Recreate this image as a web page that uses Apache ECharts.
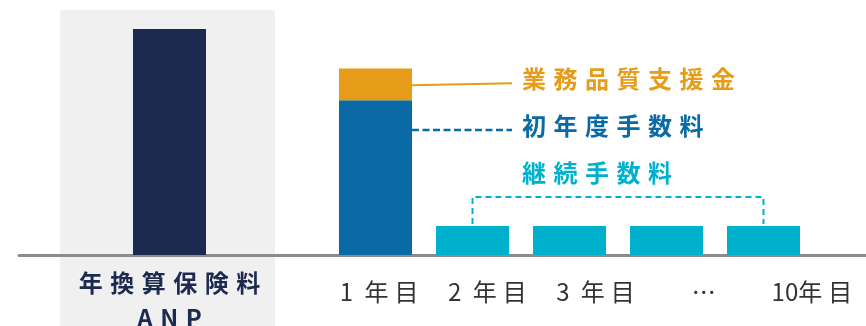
<!DOCTYPE html>
<html>
<head>
<meta charset="utf-8">
<script src="https://cdn.jsdelivr.net/npm/echarts@6/dist/echarts.min.js"></script>
<style>
  html, body { margin: 0; padding: 0; background: #ffffff; }
  #chart { width: 866px; height: 326px; }
</style>
</head>
<body>
<div id="chart"></div>
<script>
// ---- data ----
const anpCategory = ['年換算保険料\nANP'];
const anpValue = [100];

const yearCategories = ['1年目', '2年目', '3年目', '…', '10年目'];
const yearTickLabels = ['1 年目', '2 年目', '3 年目', '…', '10年目'];
const firstYearCommission = [68.5, '-', '-', '-', '-'];
const qualitySupport = [14, '-', '-', '-', '-'];
const renewalCommission = ['-', 12.8, 12.8, 12.8, 12.8];

const calloutNames = ['業務品質支援金', '初年度手数料', '継続手数料'];

// ---- styles ----
const FONT = '"Noto Sans CJK JP", "Noto Sans", sans-serif';
const NAVY = '#1b2a4e';
const BLUE = '#0a6aa6';
const ORANGE = '#e69c18';
const CYAN = '#00b1cd';
const AXIS_GRAY = '#8c8c8c';

// ECharts has no letterSpacing, so tracking is widened with narrow spaces
const isWide = c => c.charCodeAt(0) > 0x2000;
const spaced = (s, gap) => s.split('\n').map(line => {
  const chars = Array.from(line);
  let out = '';
  chars.forEach((c, i) => {
    const n = chars[i + 1];
    if (c === ' ') { out += ' \u2005'; return; }
    out += c;
    if (!n || n === ' ') return;
    if (isWide(c) && isWide(n)) out += gap;
    else if (/[A-Z]/.test(c) && /[A-Z]/.test(n)) out += gap;
  });
  return out;
}).join('\n');

const chart = echarts.init(document.getElementById('chart'), null, { renderer: 'canvas' });

const TOP = 29, BOTTOM = 71;
const hiddenY = gi => ({ type: 'value', gridIndex: gi, min: 0, max: 100, show: false });
const gridBase = { top: TOP, bottom: BOTTOM, outerBoundsMode: 'none', containLabel: false };

chart.setOption({
  animation: false,
  backgroundColor: '#ffffff',
  grid: [
    Object.assign({ left: 62, width: 215 }, gridBase),                      // ANP
    Object.assign({ left: 327, width: 485 }, gridBase),                     // yearly bars
    Object.assign({ left: 325, right: 0 }, gridBase),                       // year tick labels
    Object.assign({ left: 19, right: 0 }, gridBase, { bottom: 70.5 })       // base line
  ],
  xAxis: [
    {
      type: 'category', gridIndex: 0, data: anpCategory.map(s => spaced(s, '\u2005\u200A')),
      axisLine: { show: false }, axisTick: { show: false },
      axisLabel: { color: NAVY, fontFamily: FONT, fontSize: 24, fontWeight: 'bold', lineHeight: 35, margin: 10 }
    },
    {
      type: 'category', gridIndex: 1, data: yearCategories,
      axisLine: { show: false }, axisTick: { show: false }, axisLabel: { show: false }
    },
    {
      type: 'category', gridIndex: 2, data: yearTickLabels.map(s => spaced(s, '\u2005')),
      axisLine: { show: false }, axisTick: { show: false },
      axisLabel: { color: '#333333', fontFamily: FONT, fontSize: 24, margin: 25, interval: 0 }
    },
    {
      type: 'value', gridIndex: 3, min: 0, max: 1,
      axisLine: { show: true, lineStyle: { color: AXIS_GRAY, width: 3 } },
      axisTick: { show: false }, axisLabel: { show: false }, splitLine: { show: false }
    }
  ],
  yAxis: [hiddenY(0), hiddenY(1), hiddenY(2), hiddenY(3)],
  series: [
    {
      name: '年換算保険料', type: 'bar', xAxisIndex: 0, yAxisIndex: 0,
      data: anpValue, barWidth: 73, itemStyle: { color: NAVY }
    },
    {
      name: calloutNames[1], type: 'bar', xAxisIndex: 1, yAxisIndex: 1, stack: 'y',
      data: firstYearCommission, barWidth: 73, itemStyle: { color: BLUE }
    },
    {
      name: calloutNames[0], type: 'bar', xAxisIndex: 1, yAxisIndex: 1, stack: 'y',
      data: qualitySupport, barWidth: 73, itemStyle: { color: ORANGE }
    },
    {
      name: calloutNames[2], type: 'bar', xAxisIndex: 1, yAxisIndex: 1, stack: 'y',
      data: renewalCommission, barWidth: 73, itemStyle: { color: CYAN }
    }
  ]
});

// ---- background panel and callouts ----
const px = (cat, val) => chart.convertToPixel({ xAxisIndex: 1, yAxisIndex: 1 }, [cat, val]);
const half = 36.5;
const first = px(yearCategories[0], 0);
const barRight = first[0] + half;
const orangeMid = px(yearCategories[0], firstYearCommission[0] + qualitySupport[0] / 2)[1];
const lineEnd = 512;
const textX = 522;
const legA = px(yearCategories[1], renewalCommission[1]);
const legB = px(yearCategories[4], renewalCommission[4]);
const bracketY = 197;

const txt = (s, x, y, color) => ({
  type: 'text', x: x, y: y,
  style: { text: spaced(s, '\u2005\u200A'), fill: color, font: 'bold 24px ' + FONT, textVerticalAlign: 'middle' }
});

chart.setOption({
  graphic: [
    { type: 'rect', z: -10, shape: { x: 60, y: 10, width: 215, height: 316 }, style: { fill: '#f0f0f0' } },
    { type: 'line', shape: { x1: barRight, y1: orangeMid + 1, x2: lineEnd, y2: orangeMid - 1 },
      style: { stroke: ORANGE, lineWidth: 2 } },
    txt(calloutNames[0], textX, 79, ORANGE),
    { type: 'line', shape: { x1: barRight, y1: 130, x2: lineEnd, y2: 130 },
      style: { stroke: BLUE, lineWidth: 2.5, lineDash: [7, 3.5] } },
    txt(calloutNames[1], textX, 126, BLUE),
    { type: 'polyline', shape: { points: [[legA[0], legA[1] - 2], [legA[0], bracketY], [legB[0], bracketY], [legB[0], legB[1] - 2]] },
      style: { stroke: CYAN, lineWidth: 2, lineDash: [6, 4], fill: null } },
    txt(calloutNames[2], textX, 173, CYAN)
  ]
});
</script>
</body>
</html>
